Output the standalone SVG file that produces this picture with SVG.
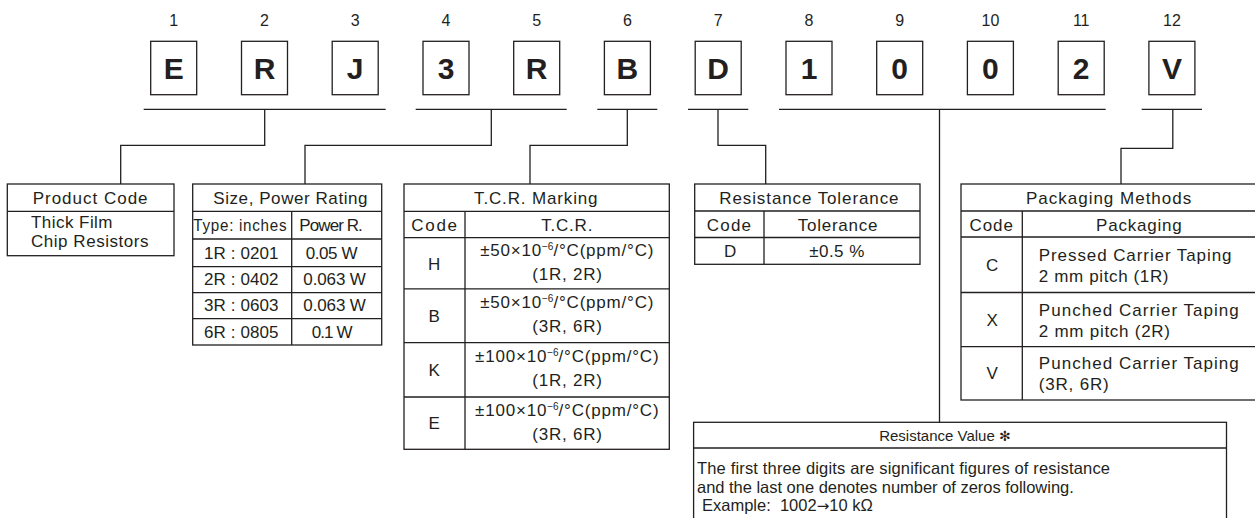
<svg xmlns="http://www.w3.org/2000/svg" width="1255" height="518" viewBox="0 0 1255 518">
<style>
.bg{fill:#fff}
.box{fill:#fff;stroke:#231f20;stroke-width:1.3}
.ln{fill:none;stroke:#231f20;stroke-width:1.3}
.t{font-family:"Liberation Sans",Arial,Helvetica,sans-serif;font-size:17px;letter-spacing:0.8px;fill:#231f20}
.c{text-anchor:middle}
.num{font-size:16px;letter-spacing:0}
.big{font-size:30px;font-weight:bold;letter-spacing:0}
.p{font-size:16.5px;letter-spacing:0}
.rv{font-size:15px;letter-spacing:0}
</style>
<rect class="bg" x="0" y="0" width="1255" height="518"/>

<g id="connectors" class="ln">
  <path d="M143.7 109.3H385.7"/>
  <path d="M415.7 109.3H566.7"/>
  <path d="M597.3 109.3H657.3"/>
  <path d="M688 109.3H748.3"/>
  <path d="M779 109.3H1105.7"/>
  <path d="M1141.7 109.3H1202"/>
  <path d="M264.7 109.3V145.3H120.7V184"/>
  <path d="M491.3 109.3V145.3H305V184"/>
  <path d="M627.3 109.3V145.3H530V184"/>
  <path d="M718 109.3V145.3H765.7V184"/>
  <path d="M939.5 109.3V422.3"/>
  <path d="M1172.8 109.3V148.3H1121V184"/>
</g>

<g id="code-chars">
  <g id="c1"><text class="t c num" x="173.7" y="26">1</text><rect class="box" x="150.7" y="41.3" width="46" height="53.4"/><text class="t c big" x="173.7" y="78.7">E</text></g>
  <g id="c2"><text class="t c num" x="264.5" y="26">2</text><rect class="box" x="241.5" y="41.3" width="46" height="53.4"/><text class="t c big" x="264.5" y="78.7">R</text></g>
  <g id="c3"><text class="t c num" x="355.2" y="26">3</text><rect class="box" x="332.2" y="41.3" width="46" height="53.4"/><text class="t c big" x="355.2" y="78.7">J</text></g>
  <g id="c4"><text class="t c num" x="446" y="26">4</text><rect class="box" x="423" y="41.3" width="46" height="53.4"/><text class="t c big" x="446" y="78.7">3</text></g>
  <g id="c5"><text class="t c num" x="536.7" y="26">5</text><rect class="box" x="513.7" y="41.3" width="46" height="53.4"/><text class="t c big" x="536.7" y="78.7">R</text></g>
  <g id="c6"><text class="t c num" x="627.4" y="26">6</text><rect class="box" x="604.4" y="41.3" width="46" height="53.4"/><text class="t c big" x="627.4" y="78.7">B</text></g>
  <g id="c7"><text class="t c num" x="718.2" y="26">7</text><rect class="box" x="695.2" y="41.3" width="46" height="53.4"/><text class="t c big" x="718.2" y="78.7">D</text></g>
  <g id="c8"><text class="t c num" x="809" y="26">8</text><rect class="box" x="786" y="41.3" width="46" height="53.4"/><text class="t c big" x="809" y="78.7">1</text></g>
  <g id="c9"><text class="t c num" x="899.7" y="26">9</text><rect class="box" x="876.7" y="41.3" width="46" height="53.4"/><text class="t c big" x="899.7" y="78.7">0</text></g>
  <g id="c10"><text class="t c num" x="990.4" y="26">10</text><rect class="box" x="967.4" y="41.3" width="46" height="53.4"/><text class="t c big" x="990.4" y="78.7">0</text></g>
  <g id="c11"><text class="t c num" x="1081.2" y="26">11</text><rect class="box" x="1058.2" y="41.3" width="46" height="53.4"/><text class="t c big" x="1081.2" y="78.7">2</text></g>
  <g id="c12"><text class="t c num" x="1171.9" y="26">12</text><rect class="box" x="1148.9" y="41.3" width="46" height="53.4"/><text class="t c big" x="1171.9" y="78.7">V</text></g>
</g>

<g id="product-code">
  <rect class="box" x="7.3" y="184" width="166.7" height="71.7"/>
  <path class="ln" d="M7.3 211.3H174"/>
  <text class="t c" x="90.5" y="204" textLength="115.7">Product Code</text>
  <text class="t" x="31" y="228" textLength="82.3">Thick Film</text>
  <text class="t" x="31" y="246.5" textLength="118.3">Chip Resistors</text>
</g>

<g id="size-power">
  <rect class="box" x="192.7" y="184" width="189" height="161"/>
  <path class="ln" d="M192.7 211.3H381.7M192.7 239H381.7M192.7 266.7H381.7M192.7 292.7H381.7M192.7 318.7H381.7M291.7 211.3V345"/>
  <text class="t c" x="290.8" y="204" textLength="155">Size, Power Rating</text>
  <text class="t c" x="240.3" y="231" textLength="94" lengthAdjust="spacingAndGlyphs">Type: inches</text>
  <text class="t c" x="331.5" y="231" textLength="64.3">Power R.</text>
  <text class="t c" x="241.7" y="258.5" textLength="75.3">1R : 0201</text>
  <text class="t c" x="332" y="258.5" textLength="52.7">0.05 W</text>
  <text class="t c" x="241.7" y="285" textLength="75.3">2R : 0402</text>
  <text class="t c" x="335" y="285" textLength="63.4">0.063 W</text>
  <text class="t c" x="241.7" y="311" textLength="75.3">3R : 0603</text>
  <text class="t c" x="335" y="311" textLength="63.4">0.063 W</text>
  <text class="t c" x="241.7" y="337.5" textLength="75.3">6R : 0805</text>
  <text class="t c" x="332.5" y="337.5" textLength="41.6">0.1 W</text>
</g>

<g id="tcr-marking">
  <rect class="box" x="404" y="184" width="265.3" height="265.3"/>
  <path class="ln" d="M404 211.3H669.3M404 237.7H669.3M404 288.8H669.3M404 342.7H669.3M404 397H669.3M465 211.3V449.3"/>
  <text class="t c" x="536.2" y="204" textLength="124.3">T.C.R. Marking</text>
  <text class="t c" x="434.5" y="231" textLength="46.7">Code</text>
  <text class="t c" x="567.2" y="231">T.C.R.</text>
  <text class="t c" x="434.5" y="269.5">H</text>
  <text class="t c" x="567.2" y="256">±50×10<tspan dy="-6" font-size="10" letter-spacing="0">−6</tspan><tspan dy="6">/°C(ppm/°C)</tspan></text>
  <text class="t c" x="567.5" y="279.5">(1R, 2R)</text>
  <text class="t c" x="434.5" y="321.8">B</text>
  <text class="t c" x="567.2" y="308.3">±50×10<tspan dy="-6" font-size="10" letter-spacing="0">−6</tspan><tspan dy="6">/°C(ppm/°C)</tspan></text>
  <text class="t c" x="567.5" y="332.3">(3R, 6R)</text>
  <text class="t c" x="434.5" y="375.8">K</text>
  <text class="t c" x="567.2" y="362.3">±100×10<tspan dy="-6" font-size="10" letter-spacing="0">−6</tspan><tspan dy="6">/°C(ppm/°C)</tspan></text>
  <text class="t c" x="567.5" y="386.3">(1R, 2R)</text>
  <text class="t c" x="434.5" y="429.2">E</text>
  <text class="t c" x="567.2" y="415.7">±100×10<tspan dy="-6" font-size="10" letter-spacing="0">−6</tspan><tspan dy="6">/°C(ppm/°C)</tspan></text>
  <text class="t c" x="567.5" y="439.7">(3R, 6R)</text>
</g>

<g id="tolerance">
  <rect class="box" x="694.7" y="184" width="225.3" height="80.3"/>
  <path class="ln" d="M694.7 211H920M694.7 237.5H920M764 211V264.3"/>
  <text class="t c" x="809.3" y="204" textLength="180">Resistance Tolerance</text>
  <text class="t c" x="729.3" y="231" textLength="45">Code</text>
  <text class="t c" x="838" y="231" textLength="80.6">Tolerance</text>
  <text class="t c" x="730.5" y="257">D</text>
  <text class="t c" x="837.2" y="257" textLength="55.7">±0.5 %</text>
</g>

<g id="packaging">
  <rect class="box" x="961" y="184" width="300" height="216"/>
  <path class="ln" d="M961 211H1261M961 237H1261M961 292.5H1261M961 346.7H1261M1022.3 211V400"/>
  <text class="t c" x="1109" y="204" textLength="166">Packaging Methods</text>
  <text class="t c" x="991.6" y="231" textLength="44.3">Code</text>
  <text class="t c" x="1139.3" y="231" textLength="86.6">Packaging</text>
  <text class="t c" x="992.5" y="270.8">C</text>
  <text class="t" x="1038.8" y="260.8" textLength="193.5">Pressed Carrier Taping</text>
  <text class="t" x="1038.8" y="281.8" textLength="130.5">2 mm pitch (1R)</text>
  <text class="t c" x="992.5" y="325.6">X</text>
  <text class="t" x="1038.8" y="315.6" textLength="200.8">Punched Carrier Taping</text>
  <text class="t" x="1038.8" y="336.6" textLength="132">2 mm pitch (2R)</text>
  <text class="t c" x="992.5" y="379.4">V</text>
  <text class="t" x="1038.8" y="369.4" textLength="200.8">Punched Carrier Taping</text>
  <text class="t" x="1038.8" y="390.4">(3R, 6R)</text>
</g>

<g id="resistance-value">
  <rect class="box" x="693.6" y="422.3" width="532.9" height="110"/>
  <path class="ln" d="M693.6 448H1226.5"/>
  <text class="t rv" x="879.2" y="440.5">Resistance Value <tspan font-family="'DejaVu Sans',sans-serif" font-size="14">✻</tspan></text>
  <text class="t p" x="697" y="474" textLength="413">The first three digits are significant figures of resistance</text>
  <text class="t p" x="697" y="492.5" textLength="376.8">and the last one denotes number of zeros following.</text>
  <text class="t p" x="702" y="511">Example:&#160; 1002<tspan font-family="'DejaVu Sans',sans-serif" font-size="15">→</tspan>10 kΩ</text>
</g>
</svg>
